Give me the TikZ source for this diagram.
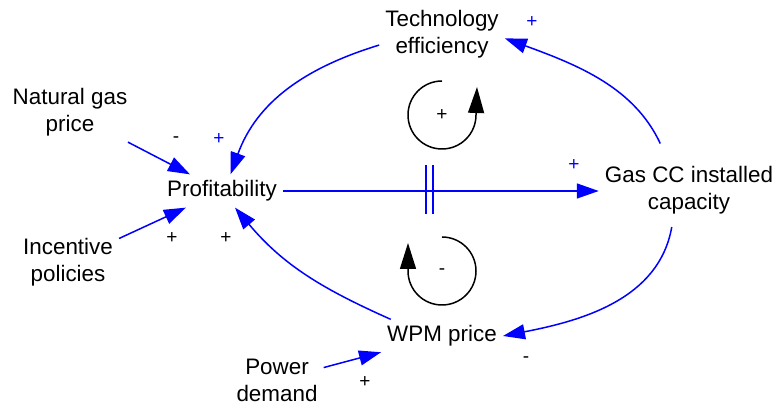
\documentclass[tikz,border=0pt]{standalone}
\usepackage{fontspec}
\setmainfont{Liberation Sans}
\usetikzlibrary{arrows.meta,positioning,calc}
\definecolor{linkblue}{RGB}{0,0,255}

\begin{document}
\begin{tikzpicture}[x=1pt,y=1pt,
    var/.style={align=center,inner sep=6pt,font=\fontsize{22.4}{27}\selectfont},
    pol/.style={inner sep=0pt,font=\fontsize{19}{19}\selectfont},
    link/.style={draw=linkblue,line width=1.5pt},
    loopline/.style={draw=black,line width=1.5pt,>={Triangle[length=26pt,width=16pt]}}]
              \useasboundingbox (0,0) rectangle (777,406);
              \begin{scope}[>={Triangle[length=22pt,width=15pt]}]
                \node (tech) at (442,372) [var]{Technology\\efficiency};
                \node (natgas) at (70,294) [var]{Natural gas\\price};
                \node (profit) at (222,215) [var]{Profitability};
                \node (incent) at (68,144) [var]{Incentive\\policies};
                \node (gascc) at (689,216) [var]{Gas CC installed\\capacity};
                \node (wpm) at (442,70) [var]{WPM price};
                \node (power) at (277,26) [var]{Power\\demand};

                \draw[link,->] (natgas) -- (profit);
                \draw[link,->] (incent) -- (profit);
                \draw[link,->] (power) -- (wpm);
                \draw[link,->] (tech.190) to[out=197,in=70] (profit.63);
                \draw[link,->] (wpm.162) to[out=156,in=-50] (profit.-52);
                \draw[link,->] (profit.east) -- (profit.east -| gascc.west);
                \draw[link,->,shorten <=18pt] (gascc.125) to[out=115,in=-20] (tech.-4);
                \draw[link,->,shorten <=7pt] (gascc.-118) to[out=-100,in=11] (wpm.east);

                \coordinate (delay) at (429.5,216.5);
                \draw[link] ($(delay)+(-3.5,-24.5)$) -- ++(0,49)
                            ($(delay)+(3.5,-24.5)$) -- ++(0,49);

                \node (p1) at (219,267) [pol,text=linkblue]{+};
                \node (p2) at (176,266) [pol]{-};
                \node (p3) at (172,168) [pol]{+};
                \node (p4) at (226,168) [pol]{+};
                \node (p5) at (574,241) [pol,text=linkblue]{+};
                \node (p6) at (532,384) [pol,text=linkblue]{+};
                \node (p7) at (526,46) [pol]{-};
                \node (p8) at (365,24) [pol]{+};

                \node (loopR) at (442,291) [pol]{+};
                \draw[loopline,->] ([yshift=34pt]loopR.center) arc[start angle=90,end angle=360,radius=34pt] -- ++(1,28);
                \node (loopB) at (442,134) [pol]{-};
                \draw[loopline,->] ([yshift=35pt]loopB.center) arc[start angle=90,end angle=-180,radius=34pt] -- ++(0,28);
              \end{scope}
\end{tikzpicture}
\end{document}
